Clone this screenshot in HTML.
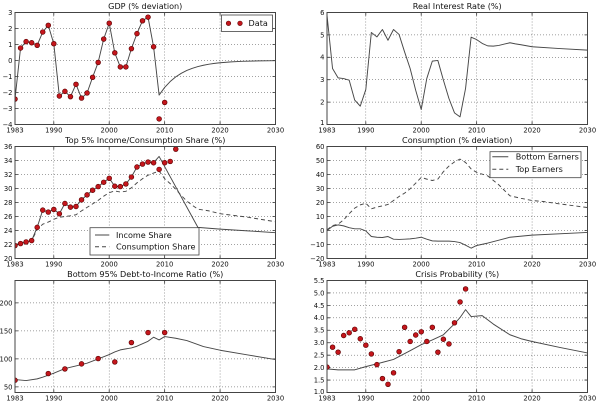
<!DOCTYPE html>
<html><head><meta charset="utf-8">
<style>
html,body{margin:0;padding:0;background:#fff;}
svg{display:block;}
.g{fill:none;stroke:#444;stroke-width:0.5;stroke-dasharray:1 2;}
.k{fill:none;stroke:#333;stroke-width:0.8;}
.f{fill:none;stroke:#444;stroke-width:1;}
.l{fill:none;stroke:#474747;stroke-width:0.95;vector-effect:non-scaling-stroke;stroke-linejoin:round;}
.d{stroke-dasharray:4 3;}
.do{fill:none;stroke:#5a0000;stroke-width:5.4;stroke-linecap:round;vector-effect:non-scaling-stroke;}
.di{fill:none;stroke:#c4161c;stroke-width:4.2;stroke-linecap:round;vector-effect:non-scaling-stroke;}
text{font-family:"DejaVu Sans","Liberation Sans",sans-serif;fill:#111;}
.t{font-size:6.8px;}
.tx{font-size:6.8px;text-anchor:middle;}
.ty{font-size:6.8px;text-anchor:end;}
.ti{font-size:8.1px;text-anchor:middle;}
.lg{font-size:8.1px;}
.lb{fill:#fff;stroke:#444;stroke-width:0.8;}
</style></head>
<body>
<svg width="600" height="405" viewBox="0 0 600 405" xmlns="http://www.w3.org/2000/svg">
<defs>
<clipPath id="c"><rect x="0" y="0" width="260.5" height="112"/></clipPath>
<g id="vg">
<path class="g" d="M38.8 0V112M94.2 0V112M149.65 0V112M205.08 0V112"/>
<path class="k" d="M38.8 0v3M94.2 0v3M149.65 0v3M205.08 0v3M38.8 112v-3M94.2 112v-3M149.65 112v-3M205.08 112v-3"/>
</g>
<g id="xl">
<text class="tx" x="0" y="120">1983</text>
<text class="tx" x="38.8" y="120">1990</text>
<text class="tx" x="94.2" y="120">2000</text>
<text class="tx" x="149.65" y="120">2010</text>
<text class="tx" x="205.08" y="120">2020</text>
<text class="tx" x="260.5" y="120">2030</text>
</g>
</defs>
<rect width="600" height="405" fill="#fff"/>

<!-- Panel 1: GDP -->
<g transform="translate(15,12.5)">
<use href="#vg"/>
<path class="g" d="M0 16H260.5M0 32H260.5M0 48H260.5M0 64H260.5M0 80H260.5M0 96H260.5"/>
<path class="k" d="M0 16h3M0 32h3M0 48h3M0 64h3M0 80h3M0 96h3M260.5 16h-3M260.5 32h-3M260.5 48h-3M260.5 64h-3M260.5 80h-3M260.5 96h-3"/>
<g clip-path="url(#c)">
<g transform="scale(5.5426,-16) translate(-1983,-3)">
<polyline class="l" points="1983,-2.41 1984,0.78 1985,1.18 1986,1.11 1987,0.95 1988,1.78 1989,2.2 1990,1.05 1991,-2.22 1992,-1.93 1993,-2.26 1994,-1.49 1995,-2.35 1996,-2.03 1997,-1.05 1998,-0.12 1999,1.34 2000,2.33 2001,0.48 2002,-0.4 2003,-0.4 2004,0.74 2005,1.68 2006,2.48 2007,2.71 2008,0.86 2009,-2.16 2010,-1.685 2011,-1.314 2012,-1.025 2013,-0.8 2014,-0.624 2015,-0.487 2016,-0.38 2017,-0.296 2018,-0.231 2019,-0.18 2020,-0.14 2022,-0.085 2024,-0.052 2027,-0.024 2030,-0.011"/>
<path class="do" d="M1983,-2.41h0.01M1984,0.78h0.01M1985,1.18h0.01M1986,1.11h0.01M1987,0.95h0.01M1988,1.78h0.01M1989,2.2h0.01M1990,1.05h0.01M1991,-2.22h0.01M1992,-1.93h0.01M1993,-2.26h0.01M1994,-1.49h0.01M1995,-2.35h0.01M1996,-2.03h0.01M1997,-1.05h0.01M1998,-0.12h0.01M1999,1.34h0.01M2000,2.33h0.01M2001,0.48h0.01M2002,-0.4h0.01M2003,-0.4h0.01M2004,0.74h0.01M2005,1.68h0.01M2006,2.48h0.01M2007,2.71h0.01M2008,0.86h0.01M2009,-3.65h0.01M2010,-2.62h0.01"/>
<path class="di" d="M1983,-2.41h0.01M1984,0.78h0.01M1985,1.18h0.01M1986,1.11h0.01M1987,0.95h0.01M1988,1.78h0.01M1989,2.2h0.01M1990,1.05h0.01M1991,-2.22h0.01M1992,-1.93h0.01M1993,-2.26h0.01M1994,-1.49h0.01M1995,-2.35h0.01M1996,-2.03h0.01M1997,-1.05h0.01M1998,-0.12h0.01M1999,1.34h0.01M2000,2.33h0.01M2001,0.48h0.01M2002,-0.4h0.01M2003,-0.4h0.01M2004,0.74h0.01M2005,1.68h0.01M2006,2.48h0.01M2007,2.71h0.01M2008,0.86h0.01M2009,-3.65h0.01M2010,-2.62h0.01"/>
</g></g>
<rect class="f" x="0" y="0" width="260.5" height="112"/>
<rect class="lb" x="206.5" y="2.5" width="51" height="16.5"/>
<circle cx="213.5" cy="10.8" r="2.3" fill="#c4161c" stroke="#5a0000" stroke-width="0.6"/>
<circle cx="225" cy="10.8" r="2.3" fill="#c4161c" stroke="#5a0000" stroke-width="0.6"/>
<text class="lg" x="233.5" y="13.7">Data</text>
<text class="ti" x="130.25" y="-3.5">GDP (% deviation)</text>
<text class="ty" x="-2.5" y="2.4">3</text>
<text class="ty" x="-2.5" y="18.4">2</text>
<text class="ty" x="-2.5" y="34.4">1</text>
<text class="ty" x="-2.5" y="50.4">0</text>
<text class="ty" x="-2.5" y="66.4">−1</text>
<text class="ty" x="-2.5" y="82.4">−2</text>
<text class="ty" x="-2.5" y="98.4">−3</text>
<text class="ty" x="-2.5" y="114.4">−4</text>
<use href="#xl"/>
</g>

<!-- Panel 2: Real Interest Rate -->
<g transform="translate(327,12.5)">
<use href="#vg"/>
<path class="g" d="M0 22.4H260.5M0 44.8H260.5M0 67.2H260.5M0 89.6H260.5"/>
<path class="k" d="M0 22.4h3M0 44.8h3M0 67.2h3M0 89.6h3M260.5 22.4h-3M260.5 44.8h-3M260.5 67.2h-3M260.5 89.6h-3"/>
<g clip-path="url(#c)">
<g transform="scale(5.5426,-22.4) translate(-1983,-6)">
<polyline class="l" points="1983,5.88 1984,3.5 1985,3.08 1986,3.05 1987,2.98 1988,2.09 1989,1.82 1990,2.56 1991,5.11 1992,4.91 1993,5.24 1994,4.76 1995,5.24 1996,5.02 1997,4.24 1998,3.5 1999,2.53 2000,1.67 2001,3.05 2002,3.83 2003,3.86 2004,2.98 2005,2.16 2006,1.52 2007,1.34 2008,2.61 2009,4.9 2010,4.79 2011,4.62 2012,4.51 2013,4.5 2014,4.53 2015,4.59 2016,4.65 2017,4.6 2018,4.56 2020,4.47 2025,4.39 2030,4.32"/>
</g></g>
<rect class="f" x="0" y="0" width="260.5" height="112"/>
<text class="ti" x="130.25" y="-3.5">Real Interest Rate (%)</text>
<text class="ty" x="-2.5" y="2.4">6</text>
<text class="ty" x="-2.5" y="24.8">5</text>
<text class="ty" x="-2.5" y="47.2">4</text>
<text class="ty" x="-2.5" y="69.6">3</text>
<text class="ty" x="-2.5" y="92">2</text>
<text class="ty" x="-2.5" y="112.5">1</text>
<use href="#xl"/>
</g>

<!-- Panel 3: Top 5% Income/Consumption Share -->
<g transform="translate(15,146.5)">
<use href="#vg"/>
<path class="g" d="M0 14H260.5M0 28H260.5M0 42H260.5M0 56H260.5M0 70H260.5M0 84H260.5M0 98H260.5"/>
<path class="k" d="M0 14h3M0 28h3M0 42h3M0 56h3M0 70h3M0 84h3M0 98h3M260.5 14h-3M260.5 28h-3M260.5 42h-3M260.5 56h-3M260.5 70h-3M260.5 84h-3M260.5 98h-3"/>
<g clip-path="url(#c)">
<g transform="scale(5.5426,-7) translate(-1983,-36)">
<polyline class="l" points="1983,21.85 1984,22.13 1985,22.37 1986,22.56 1987,24.45 1988,26.91 1989,26.63 1990,27.01 1991,26.39 1992,27.86 1993,27.34 1994,27.43 1995,28.38 1996,29.09 1997,29.75 1998,30.27 1999,30.89 2000,31.46 2001,30.32 2002,30.27 2003,30.65 2004,31.64 2005,33.07 2006,33.49 2007,33.78 2008,33.68 2009,34.58 2016,24.45 2020,24.2 2025,23.95 2030,23.69"/>
<polyline class="l d" points="1983,22.0 1984,22.15 1985,22.35 1986,22.55 1987,24.1 1988,24.9 1989,25.2 1990,25.6 1991,25.9 1992,26.0 1993,26.1 1994,26.25 1995,26.8 1996,27.3 1997,27.8 1998,28.3 1999,28.9 2000,29.4 2001,29.65 2002,29.5 2003,29.6 2004,30.1 2005,30.8 2006,31.4 2007,31.9 2008,32.2 2009,32.5 2010,31.4 2011,30.7 2012,29.9 2013,29.0 2014,28.2 2015,27.6 2016,27.05 2018,26.8 2020,26.4 2025,25.9 2030,25.25"/>
<path class="do" d="M1983,21.85h0.01M1984,22.13h0.01M1985,22.37h0.01M1986,22.56h0.01M1987,24.45h0.01M1988,26.91h0.01M1989,26.63h0.01M1990,27.01h0.01M1991,26.39h0.01M1992,27.86h0.01M1993,27.34h0.01M1994,27.43h0.01M1995,28.38h0.01M1996,29.09h0.01M1997,29.75h0.01M1998,30.27h0.01M1999,30.89h0.01M2000,31.46h0.01M2001,30.32h0.01M2002,30.27h0.01M2003,30.65h0.01M2004,31.64h0.01M2005,33.07h0.01M2006,33.49h0.01M2007,33.78h0.01M2008,33.68h0.01M2009,32.73h0.01M2010,33.68h0.01M2011,33.87h0.01M2012,35.62h0.01"/>
<path class="di" d="M1983,21.85h0.01M1984,22.13h0.01M1985,22.37h0.01M1986,22.56h0.01M1987,24.45h0.01M1988,26.91h0.01M1989,26.63h0.01M1990,27.01h0.01M1991,26.39h0.01M1992,27.86h0.01M1993,27.34h0.01M1994,27.43h0.01M1995,28.38h0.01M1996,29.09h0.01M1997,29.75h0.01M1998,30.27h0.01M1999,30.89h0.01M2000,31.46h0.01M2001,30.32h0.01M2002,30.27h0.01M2003,30.65h0.01M2004,31.64h0.01M2005,33.07h0.01M2006,33.49h0.01M2007,33.78h0.01M2008,33.68h0.01M2009,32.73h0.01M2010,33.68h0.01M2011,33.87h0.01M2012,35.62h0.01"/>
</g></g>
<rect class="f" x="0" y="0" width="260.5" height="112"/>
<rect class="lb" x="75" y="81.2" width="109" height="27.3"/>
<path d="M80 88.5H94.3" stroke="#474747" stroke-width="1" fill="none"/>
<path d="M80 100.2H94.3" stroke="#474747" stroke-width="1" fill="none" stroke-dasharray="4 3"/>
<text class="lg" x="101" y="91.4">Income Share</text>
<text class="lg" x="101" y="103.1">Consumption Share</text>
<text class="ti" x="130.25" y="-3.5">Top 5% Income/Consumption Share (%)</text>
<text class="ty" x="-2.5" y="2.4">36</text>
<text class="ty" x="-2.5" y="16.4">34</text>
<text class="ty" x="-2.5" y="30.4">32</text>
<text class="ty" x="-2.5" y="44.4">30</text>
<text class="ty" x="-2.5" y="58.4">28</text>
<text class="ty" x="-2.5" y="72.4">26</text>
<text class="ty" x="-2.5" y="86.4">24</text>
<text class="ty" x="-2.5" y="100.4">22</text>
<text class="ty" x="-2.5" y="114.4">20</text>
<use href="#xl"/>
</g>

<!-- Panel 4: Consumption -->
<g transform="translate(327,146.5)">
<use href="#vg"/>
<path class="g" d="M0 14H260.5M0 28H260.5M0 42H260.5M0 56H260.5M0 70H260.5M0 84H260.5M0 98H260.5"/>
<path class="k" d="M0 14h3M0 28h3M0 42h3M0 56h3M0 70h3M0 84h3M0 98h3M260.5 14h-3M260.5 28h-3M260.5 42h-3M260.5 56h-3M260.5 70h-3M260.5 84h-3M260.5 98h-3"/>
<g clip-path="url(#c)">
<g transform="scale(5.5426,-1.4) translate(-1983,-60)">
<polyline class="l d" points="1983,0.5 1984,3.5 1985,4.5 1986,7.6 1987,12 1988,16 1989,18.3 1990,19.5 1991,15.5 1992,16.7 1993,17.6 1994,18.6 1995,21.4 1996,24.3 1997,26.7 1998,29.8 1999,33.8 2000,37.9 2001,36.7 2002,35.7 2003,36.7 2004,42 2005,46 2006,49 2007,51 2008,48.6 2009,44 2010,41.5 2012,39 2014,32.6 2016,24.8 2018,23 2020,21.4 2022,20.7 2025,19 2030,16.4"/>
<polyline class="l" points="1983,0 1984,3 1985,4 1986,3.3 1987,2 1988,1.2 1989,1.2 1990,-0.3 1991,-4.3 1992,-4.8 1993,-5 1994,-4.3 1995,-6.2 1996,-6.4 1997,-6.2 1998,-6 1999,-5.5 2000,-4.8 2001,-6.2 2002,-7.4 2003,-7.6 2004,-7.6 2005,-7.6 2006,-7.9 2007,-8.6 2008,-10.5 2009,-12.6 2010,-10.7 2012,-9 2014,-6.9 2016,-4.8 2020,-3.3 2030,-1.4"/>
</g></g>
<rect class="f" x="0" y="0" width="260.5" height="112"/>
<rect class="lb" x="163" y="5.2" width="91" height="26"/>
<path d="M165.3 10.2H181.3" stroke="#474747" stroke-width="1" fill="none"/>
<path d="M165.3 22.8H181.3" stroke="#474747" stroke-width="1" fill="none" stroke-dasharray="4 3"/>
<text class="lg" x="188.7" y="13.1">Bottom Earners</text>
<text class="lg" x="188.7" y="25.7">Top Earners</text>
<text class="ti" x="130.25" y="-3.5">Consumption (% deviation)</text>
<text class="ty" x="-2.5" y="2.4">60</text>
<text class="ty" x="-2.5" y="16.4">50</text>
<text class="ty" x="-2.5" y="30.4">40</text>
<text class="ty" x="-2.5" y="44.4">30</text>
<text class="ty" x="-2.5" y="58.4">20</text>
<text class="ty" x="-2.5" y="72.4">10</text>
<text class="ty" x="-2.5" y="86.4">0</text>
<text class="ty" x="-2.5" y="100.4">−10</text>
<text class="ty" x="-2.5" y="114.4">−20</text>
<use href="#xl"/>
</g>

<!-- Panel 5: Debt-to-Income -->
<g transform="translate(15,280.5)">
<use href="#vg"/>
<path class="g" d="M0 22.4H260.5M0 50.4H260.5M0 78.4H260.5M0 106.4H260.5"/>
<path class="k" d="M0 22.4h3M0 50.4h3M0 78.4h3M0 106.4h3M260.5 22.4h-3M260.5 50.4h-3M260.5 78.4h-3M260.5 106.4h-3"/>
<g clip-path="url(#c)">
<g transform="scale(5.5426,-0.56) translate(-1983,-240)">
<polyline class="l" points="1983,63.1 1985,61.3 1987,64.3 1988,67.3 1990,74.4 1992,82.7 1994,87.5 1996,92.3 1998,100 2000,107.7 2001,112.5 2002,116.1 2004,119.6 2005,122.6 2007,131.5 2008,138.7 2009,133.9 2010,139.9 2012,136.9 2014,132.7 2017,122 2020,115.5 2025,107.1 2030,98.8"/>
<path class="do" d="M1983,61.9h0.01M1989,73.8h0.01M1992,82.1h0.01M1995,91.1h0.01M1998,100.6h0.01M2001,94.6h0.01M2004,129.2h0.01M2007,147h0.01M2010,147h0.01"/>
<path class="di" d="M1983,61.9h0.01M1989,73.8h0.01M1992,82.1h0.01M1995,91.1h0.01M1998,100.6h0.01M2001,94.6h0.01M2004,129.2h0.01M2007,147h0.01M2010,147h0.01"/>
</g></g>
<rect class="f" x="0" y="0" width="260.5" height="112"/>
<text class="ti" x="130.25" y="-3.5">Bottom 95% Debt-to-Income Ratio (%)</text>
<text class="ty" x="-2.5" y="24.8">200</text>
<text class="ty" x="-2.5" y="52.8">150</text>
<text class="ty" x="-2.5" y="80.8">100</text>
<text class="ty" x="-2.5" y="108.8">50</text>
<use href="#xl"/>
</g>

<!-- Panel 6: Crisis Probability -->
<g transform="translate(327,280.5)">
<use href="#vg"/>
<path class="g" d="M0 12.44H260.5M0 24.89H260.5M0 37.33H260.5M0 49.78H260.5M0 62.22H260.5M0 74.67H260.5M0 87.11H260.5M0 99.56H260.5"/>
<path class="k" d="M0 12.44h3M0 24.89h3M0 37.33h3M0 49.78h3M0 62.22h3M0 74.67h3M0 87.11h3M0 99.56h3M260.5 12.44h-3M260.5 24.89h-3M260.5 37.33h-3M260.5 49.78h-3M260.5 62.22h-3M260.5 74.67h-3M260.5 87.11h-3M260.5 99.56h-3"/>
<g clip-path="url(#c)">
<g transform="scale(5.5426,-24.889) translate(-1983,-5.5)">
<polyline class="l" points="1983,1.95 1985,1.91 1988,1.91 1990,2.04 1993,2.21 1995,2.33 1998,2.68 2000,2.92 2002,3.11 2004,3.32 2006,3.76 2007,4.01 2008,4.33 2009,4.05 2011,4.09 2013,3.75 2016,3.32 2018,3.16 2020,3.05 2025,2.81 2030,2.59"/>
<path class="do" d="M1983,2.02h0.01M1984,2.82h0.01M1985,2.62h0.01M1986,3.29h0.01M1987,3.4h0.01M1988,3.54h0.01M1989,3.16h0.01M1990,2.9h0.01M1991,2.55h0.01M1992,2.12h0.01M1993,1.56h0.01M1994,1.33h0.01M1995,1.79h0.01M1996,2.64h0.01M1997,3.62h0.01M1998,3.05h0.01M1999,3.31h0.01M2000,3.44h0.01M2001,3.05h0.01M2002,3.62h0.01M2003,2.62h0.01M2004,3.14h0.01M2005,2.95h0.01M2006,3.8h0.01M2007,4.64h0.01M2008,5.16h0.01"/>
<path class="di" d="M1983,2.02h0.01M1984,2.82h0.01M1985,2.62h0.01M1986,3.29h0.01M1987,3.4h0.01M1988,3.54h0.01M1989,3.16h0.01M1990,2.9h0.01M1991,2.55h0.01M1992,2.12h0.01M1993,1.56h0.01M1994,1.33h0.01M1995,1.79h0.01M1996,2.64h0.01M1997,3.62h0.01M1998,3.05h0.01M1999,3.31h0.01M2000,3.44h0.01M2001,3.05h0.01M2002,3.62h0.01M2003,2.62h0.01M2004,3.14h0.01M2005,2.95h0.01M2006,3.8h0.01M2007,4.64h0.01M2008,5.16h0.01"/>
</g></g>
<rect class="f" x="0" y="0" width="260.5" height="112"/>
<text class="ti" x="130.25" y="-3.5">Crisis Probability (%)</text>
<text class="ty" x="-2.5" y="2.4">5.5</text>
<text class="ty" x="-2.5" y="14.84">5.0</text>
<text class="ty" x="-2.5" y="27.29">4.5</text>
<text class="ty" x="-2.5" y="39.73">4.0</text>
<text class="ty" x="-2.5" y="52.18">3.5</text>
<text class="ty" x="-2.5" y="64.62">3.0</text>
<text class="ty" x="-2.5" y="77.07">2.5</text>
<text class="ty" x="-2.5" y="89.51">2.0</text>
<text class="ty" x="-2.5" y="101.96">1.5</text>
<text class="ty" x="-2.5" y="113.5">1.0</text>
<use href="#xl"/>
</g>
</svg>
</body></html>
